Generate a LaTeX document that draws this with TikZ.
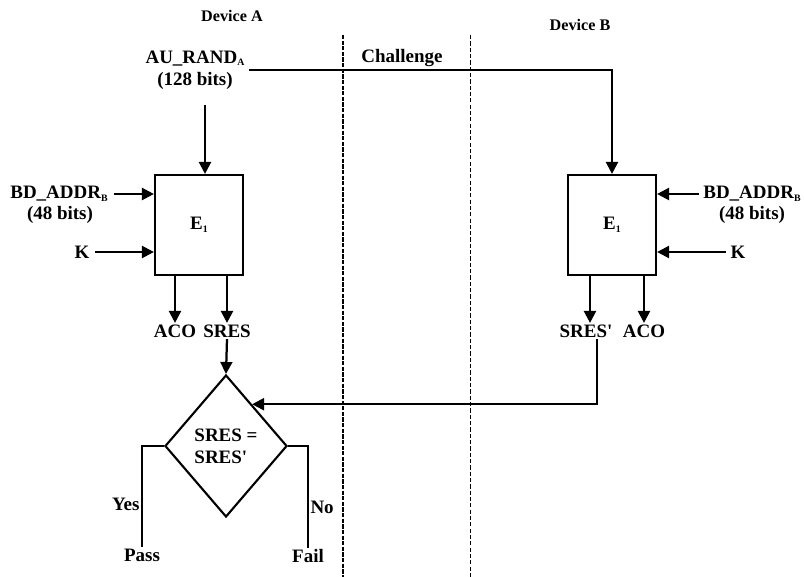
\documentclass[tikz,border=0pt]{standalone}
\usepackage{fontspec}
\setmainfont{Liberation Serif}
\usepackage{tikz}
\usetikzlibrary{positioning,shapes.geometric,arrows.meta,calc}
\newcommand{\lowtag}[1]{\raisebox{-0.3ex}{\fontsize{7}{7}\selectfont #1}}
\newcommand{\sq}{\textquotesingle}

\begin{document}
\begin{tikzpicture}[
      x=0.025cm, y=-0.025cm,
      lbl/.style={
        inner sep=1pt,
        font=\fontsize{13.5}{15.5}\selectfont\bfseries,
      },
      dev/.style={
        inner sep=1pt,
        font=\fontsize{11.5}{13}\selectfont\bfseries,
      },
      enc/.style={
        draw,
        line width=1.5pt,
        minimum width=2.2cm,
        minimum height=2.5cm,
        font=\fontsize{13.5}{15.5}\selectfont\bfseries,
      },
      check/.style={
        draw,
        diamond,
        line width=1.5pt,
        minimum width=3.05cm,
        minimum height=3.55cm,
        inner sep=0pt,
        align=left,
        font=\fontsize{13.5}{15.5}\selectfont\bfseries,
      },
      arr/.style={-{Triangle[length=8.5pt,width=8.5pt]}, line width=1.6pt},
      wire/.style={line width=1.6pt},
    ]
      \useasboundingbox (0,0) rectangle (804,577);
      % separators
      \draw[line width=2pt, dash pattern=on 3pt off 1pt] (343,35) -- (343,577);
      \draw[line width=0.7pt, dash pattern=on 3pt off 1.5pt] (470,35) -- (470,577);
      % headings
      \node[dev] (devA) at (232,16) {Device A};
      \node[dev] (devB) at (580,25) {Device B};
      \node[lbl] (chal) at (402,58) {Challenge};
      % device A
      \node[lbl, align=center] (randA) at (195,70) {AU\_RAND\lowtag{A}\\(128 bits)};
      \coordinate (randout) at (205,105);
      \node[enc] (encA) at (199,225) {E\lowtag{1}};
      \node[lbl] (bdA) at (59,194) {BD\_ADDR\lowtag{B}};
      \node[lbl] (bdAbits) at (60,215) {(48 bits)};
      \node[lbl] (kA) at (82,252) {K};
      \node[lbl] (acoA) at (175,331) {ACO};
      \node[lbl] (sresA) at (227,331) {SRES};
      \node[check] (cmp) at (226,446) {SRES =\\SRES\sq};
      \node[lbl] (pass) at (142,555) {Pass};
      \node[lbl] (fail) at (308,556) {Fail};
      % device B
      \node[enc] (encB) at (612,225) {E\lowtag{1}};
      \node[lbl] (bdB) at (752,194) {BD\_ADDR\lowtag{B}};
      \node[lbl] (bdBbits) at (752,215) {(48 bits)};
      \node[lbl] (kB) at (738,252) {K};
      \node[lbl] (sresB) at (586,331) {SRES\sq};
      \node[lbl] (acoB) at (644,331) {ACO};
      % connectors
      \draw[arr] (randout) -- (randout |- encA.north);
      \draw[arr, shorten <=2pt] (randA.east) -| (encB.north);
      \draw[arr, shorten <=3pt] (bdA.east) -- (bdA.east -| encA.west);
      \draw[arr, shorten <=3pt] (kA.east) -- (kA.east -| encA.west);
      \draw[arr, shorten <=2pt] (bdB.west) -- (bdB.west -| encB.east);
      \draw[arr, shorten <=2pt] (kB.west) -- (kB.west -| encB.east);
      \draw[arr] (encA.south -| acoA) -- (acoA.north);
      \draw[arr] (encA.south -| sresA) -- (sresA.north);
      \draw[arr] (encB.south -| 590,0) -- (590,0 |- sresB.north);
      \draw[arr] (encB.south -| acoB) -- (acoB.north);
      \draw[arr] (sresA.south) -- (cmp.north);
      \draw[arr] ($(sresB.south)+(11,0)$) |- (cmp.58);
      \draw[wire] (cmp.west) -| node[lbl, pos=0.79, left] (yes) {Yes} (pass.north);
      \draw[wire] (cmp.east) -| node[lbl, pos=0.8, right] (no) {No} (fail.north);
    \end{tikzpicture}
\end{document}
